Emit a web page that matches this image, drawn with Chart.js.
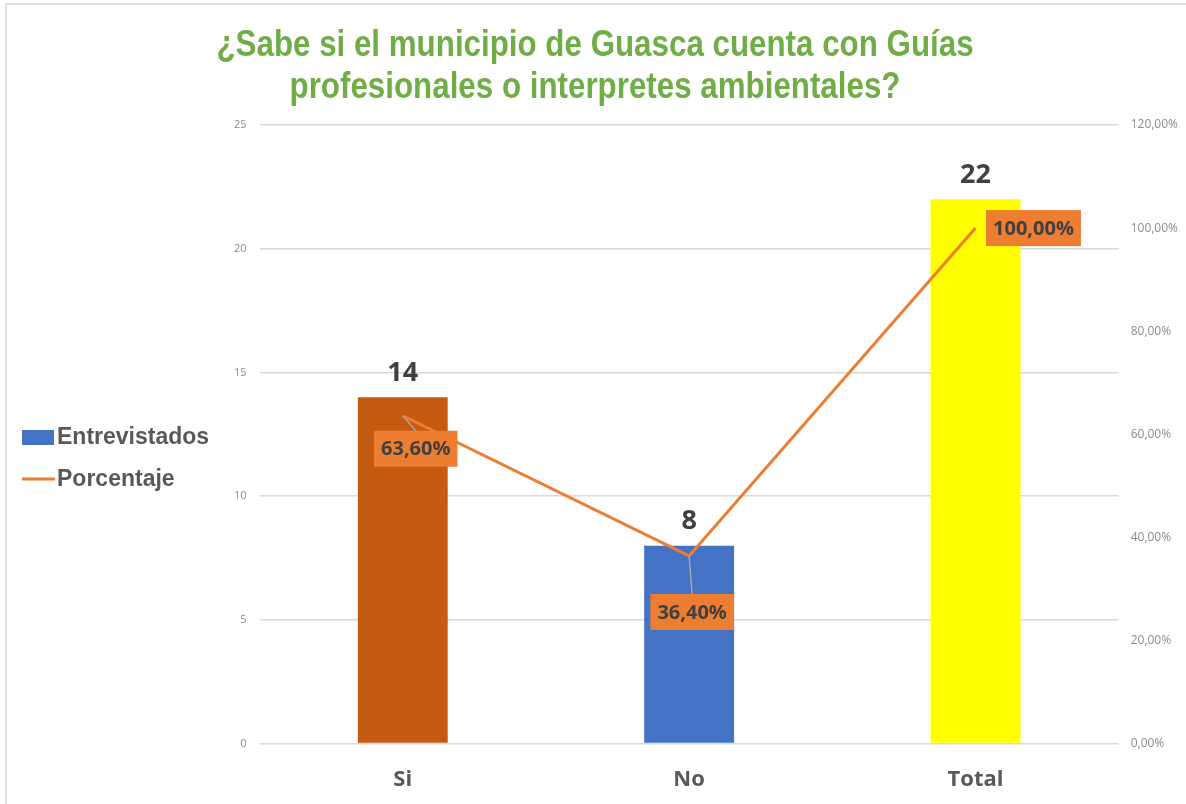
<!DOCTYPE html>
<html>
<head>
<meta charset="utf-8">
<script src="https://cdn.jsdelivr.net/npm/chart.js@4.4.1/dist/chart.umd.min.js"></script>
<style>
  html, body { margin: 0; padding: 0; background: #fff; }
  #wrap { width: 1186px; height: 804px; }
</style>
</head>
<body>
<div id="wrap"><canvas id="myChart" width="1186" height="804"></canvas></div>
<script>
const categories = ['Si', 'No', 'Total'];
const entrevistados = [14, 8, 22];
const porcentaje = [63.6, 36.4, 100];
const barColors = ['#C55A11', '#4472C4', '#FFFF00'];

const titleLines = ['¿Sabe si el municipio de Guasca cuenta con Guías', 'profesionales o interpretes ambientales?'];
const legendItems = [
  { text: 'Entrevistados', color: '#4472C4', style: 'box' },
  { text: 'Porcentaje', color: '#ED7D31', style: 'line' }
];

const fmtPct = (v) => v.toFixed(2).replace('.', ',') + '%';

// label boxes for the percentage line, offset from each point
const pctOffsets = [[13, 33], [3, 56], [58, 0]];

// title, legend and frame, drawn on the canvas around the plot
const decorations = {
  id: 'decorations',
  beforeDraw(chart) {
    const ctx = chart.ctx;
    ctx.save();
    ctx.fillStyle = '#E3E3E3';
    ctx.fillRect(5, 3, chart.width - 5, 2);
    ctx.fillRect(5, 3, 2, chart.height - 3);
    ctx.restore();
  },
  afterDraw(chart) {
    const ctx = chart.ctx;
    ctx.save();

    ctx.fillStyle = '#70AD47';
    ctx.font = 'bold 36px "Liberation Sans", Arial, sans-serif';
    ctx.textAlign = 'center';
    ctx.textBaseline = 'middle';
    titleLines.forEach((line, i) => {
      ctx.save();
      ctx.translate(595, 46 + i * 42);
      ctx.scale(0.87, 1);
      ctx.fillText(line, 0, 0);
      ctx.restore();
    });

    ctx.font = 'bold 23px "Liberation Sans", Arial, sans-serif';
    ctx.textAlign = 'left';
    legendItems.forEach((item, i) => {
      const y = 437 + i * 42;
      if (item.style === 'box') {
        ctx.fillStyle = item.color;
        ctx.fillRect(22, y - 7, 32, 15);
      } else {
        ctx.strokeStyle = item.color;
        ctx.lineWidth = 3;
        ctx.beginPath();
        ctx.moveTo(22, y);
        ctx.lineTo(55, y);
        ctx.stroke();
      }
      ctx.fillStyle = '#595959';
      ctx.fillText(item.text, 57, y + 1);
    });

    ctx.restore();
  }
};

const valueLabels = {
  id: 'valueLabels',
  afterDatasetsDraw(chart) {
    const ctx = chart.ctx;
    ctx.save();

    const barMeta = chart.getDatasetMeta(0);
    ctx.font = 'bold 27px "Open Sans", "DejaVu Sans", sans-serif';
    ctx.fillStyle = '#404040';
    ctx.textAlign = 'center';
    ctx.textBaseline = 'middle';
    barMeta.data.forEach((bar, i) => {
      ctx.fillText(String(entrevistados[i]), bar.x, bar.y - 24);
    });

    const lineMeta = chart.getDatasetMeta(1);
    ctx.font = 'bold 20px "Open Sans", "DejaVu Sans", sans-serif';
    lineMeta.data.forEach((pt, i) => {
      const [dx, dy] = pctOffsets[i];
      const cx = pt.x + dx;
      const cy = pt.y + dy;
      const text = fmtPct(porcentaje[i]);
      const w = ctx.measureText(text).width + 14;
      const h = 36;

      if (dy > 0) {
        ctx.strokeStyle = '#A6A6A6';
        ctx.lineWidth = 1.5;
        ctx.beginPath();
        ctx.moveTo(pt.x, pt.y);
        ctx.lineTo(cx, cy - h / 2);
        ctx.stroke();
      }

      ctx.fillStyle = '#ED7D31';
      ctx.fillRect(cx - w / 2, cy - h / 2, w, h);
      ctx.fillStyle = '#404040';
      ctx.fillText(text, cx, cy + 1);
    });

    ctx.restore();
  }
};

const ctx = document.getElementById('myChart').getContext('2d');

new Chart(ctx, {
  type: 'bar',
  data: {
    labels: categories,
    datasets: [
      {
        label: 'Entrevistados',
        data: entrevistados,
        backgroundColor: barColors,
        borderWidth: 0,
        categoryPercentage: 1,
        barPercentage: 0.314,
        yAxisID: 'y',
        order: 2
      },
      {
        type: 'line',
        label: 'Porcentaje',
        data: porcentaje,
        borderColor: '#ED7D31',
        backgroundColor: '#ED7D31',
        borderWidth: 3,
        pointRadius: 0,
        tension: 0,
        yAxisID: 'y1',
        order: 1
      }
    ]
  },
  options: {
    responsive: false,
    animation: false,
    layout: {
      padding: { top: 125, left: 221, right: -4, bottom: -12 }
    },
    plugins: {
      title: { display: false },
      legend: { display: false },
      tooltip: { enabled: false }
    },
    scales: {
      x: {
        grid: { display: false, drawTicks: false },
        border: { display: false },
        ticks: {
          color: '#595959',
          font: { family: '"Open Sans", "DejaVu Sans", sans-serif', size: 22, weight: 'bold' },
          padding: 23
        }
      },
      y: {
        min: 0,
        max: 25,
        ticks: {
          stepSize: 5,
          color: '#8C8C8C',
          font: { family: '"Open Sans", sans-serif', size: 11 },
          padding: 13
        },
        grid: { color: '#D9D9D9', lineWidth: 1.5, drawTicks: false },
        border: { display: false }
      },
      y1: {
        position: 'right',
        min: 0,
        max: 120,
        ticks: {
          stepSize: 20,
          color: '#8C8C8C',
          font: { family: '"Open Sans", sans-serif', size: 12 },
          padding: 12,
          callback: (v) => fmtPct(v)
        },
        grid: { display: false, drawTicks: false },
        border: { display: false }
      }
    }
  },
  plugins: [decorations, valueLabels]
});
</script>
</body>
</html>
